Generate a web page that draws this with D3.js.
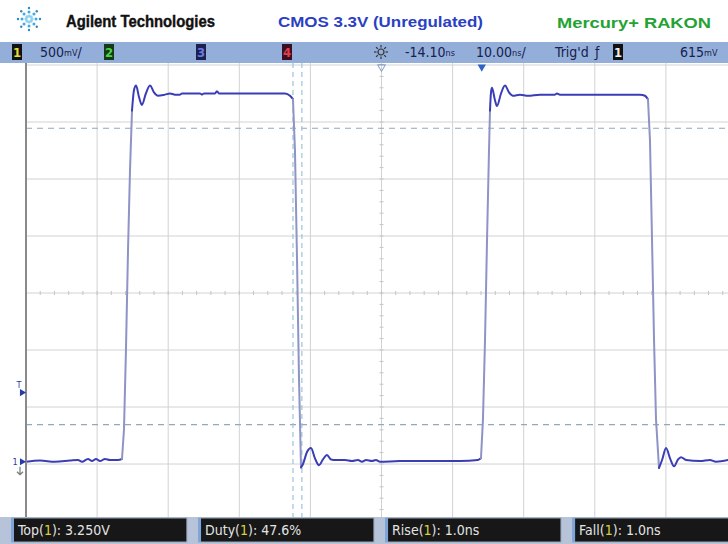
<!DOCTYPE html>
<html>
<head>
<meta charset="utf-8">
<script src="https://cdnjs.cloudflare.com/ajax/libs/d3/7.8.5/d3.min.js"></script>
<style>
  body { margin: 0; background: #fff; }
  svg { display: block; }
  .cond { font-family: "DejaVu Sans Condensed", "DejaVu Sans", sans-serif; }
  .head { font-family: "Liberation Sans", Arial, sans-serif; font-weight: bold; }
</style>
</head>
<body>
<svg id="chart" width="728" height="544"></svg>
<script>
// captured trace, channel 1 (time in ns relative to trigger, volts)
var timeNs = [-64.10, -62.13, -60.02, -57.91, -56.79, -56.22, -55.38, -54.82, -54.25, -53.69,
  -52.99, -52.29, -51.16, -50.60, -50.32, -50.04, -49.75, -49.47, -49.19, -48.91,
  -48.62, -48.21, -47.80, -47.24, -46.66, -46.10, -45.54, -44.55, -43.85, -43.14,
  -42.44, -42.16, -39.63, -39.35, -39.07, -37.52, -37.24, -36.96, -32.60, -27.67,
  -26.97, -26.55, -26.27, -25.98, -25.70, -25.42, -25.14, -24.58, -24.02, -23.46,
  -22.89, -22.33, -21.77, -21.20, -20.50, -19.23, -18.25, -17.41, -16.84, -16.28,
  -15.44, -14.88, -14.31, -11.50, -7.28, -3.06, -0.53, -0.11, 0.17, 0.46,
  0.74, 1.02, 1.16, 1.30, 1.44, 1.86, 2.14, 2.71, 3.27, 3.83,
  4.39, 5.38, 6.50, 8.19, 10.30, 10.58, 11.00, 16.63, 22.26, 22.96,
  23.38, 23.66, 23.95, 24.23, 24.51, 24.93, 25.36, 25.92, 26.48, 27.05,
  27.61, 28.02, 28.73, 30.70, 32.10, 32.95, 34.64];
var volts = [0.00, 0.01, 0.00, 0.01, 0.015, 0.00, 0.024, 0.006, 0.024, 0.006,
  0.024, 0.015, 0.015, 0.024, 0.28, 0.98, 1.86, 2.56, 3.08, 3.26,
  3.30, 3.20, 3.13, 3.23, 3.30, 3.24, 3.21, 3.22, 3.23, 3.22,
  3.22, 3.23, 3.23, 3.22, 3.23, 3.23, 3.25, 3.23, 3.23, 3.23,
  3.21, 3.18, 2.73, 1.77, 0.72, -0.05, -0.02, 0.085, 0.12, 0.03,
  -0.03, 0.02, 0.06, 0.02, 0.015, 0.015, 0.006, 0.015, 0.00, 0.015,
  0.006, 0.015, 0.00, 0.006, 0.006, 0.006, 0.015, 0.03, 0.37, 1.07,
  1.94, 2.73, 3.08, 3.24, 3.28, 3.17, 3.12, 3.23, 3.30, 3.24,
  3.21, 3.22, 3.21, 3.22, 3.22, 3.23, 3.22, 3.22, 3.22, 3.21,
  3.18, 2.82, 1.94, 1.07, 0.37, -0.055, 0.015, 0.12, 0.03, -0.04,
  0.02, 0.04, 0.015, 0.006, 0.015, 0.00, 0.015];

// scope settings
var voltsPerDiv = 0.5, nsPerDiv = 10, delayNs = -14.10, centerVolts = 1.48;
var trigLevel = 0.615;
var cursorLevels = [2.925, 0.325];
var cursorTimes = [-26.55, -25.30];

// measurements
var measNames = ["Top", "Duty", "Rise", "Fall"];
var measValues = ["3.250V", "47.6%", "1.0ns", "1.0ns"];

var svg = d3.select("#chart");

var x = d3.scaleLinear()
    .domain([delayNs - 5 * nsPerDiv, delayNs + 5 * nsPerDiv])
    .range([26, 737]);
var y = d3.scaleLinear()
    .domain([centerVolts - 4 * voltsPerDiv, centerVolts + 4 * voltsPerDiv])
    .range([521, 65]);

// ---- header
var logo = svg.append("g").attr("transform", "translate(29,19)");
[[3, 1.6, "#8fd3f0"], [7, 1.5, "#45a9dc"], [11, 1.2, "#2f86c4"]].forEach(function (r) {
    d3.range(8).forEach(function (k) {
        var a = k * Math.PI / 4;
        logo.append("circle")
            .attr("cx", r[0] * Math.cos(a))
            .attr("cy", r[0] * Math.sin(a))
            .attr("r", r[1])
            .attr("fill", r[2]);
    });
});

svg.append("text").attr("class", "head")
    .attr("x", 66).attr("y", 27)
    .attr("font-size", 16).attr("fill", "#111")
    .attr("stroke", "#111").attr("stroke-width", 0.4)
    .attr("textLength", 149).attr("lengthAdjust", "spacingAndGlyphs")
    .text("Agilent Technologies");
svg.append("text").attr("class", "head")
    .attr("x", 278).attr("y", 27)
    .attr("font-size", 14).attr("fill", "#2b3fc4")
    .attr("textLength", 205).attr("lengthAdjust", "spacingAndGlyphs")
    .text("CMOS 3.3V (Unregulated)");
svg.append("text").attr("class", "head")
    .attr("x", 557).attr("y", 28)
    .attr("font-size", 14).attr("fill", "#24a234")
    .attr("textLength", 154).attr("lengthAdjust", "spacingAndGlyphs")
    .text("Mercury+  RAKON");

// ---- status bar
svg.append("rect")
    .attr("x", 0).attr("y", 42).attr("width", 728).attr("height", 21)
    .attr("fill", "#93aed8");

function chanBox(xp, label, bg, fg) {
    svg.append("rect").attr("x", xp).attr("y", 44).attr("width", 10).attr("height", 16)
        .attr("fill", bg);
    svg.append("text").attr("class", "cond")
        .attr("x", xp + 5).attr("y", 57).attr("text-anchor", "middle")
        .attr("font-size", 13).attr("font-weight", "bold").attr("fill", fg)
        .text(label);
}
chanBox(12, "1", "#111", "#e6dc3a");
chanBox(104, "2", "#163a16", "#4cd24c");
chanBox(196, "3", "#1c2050", "#6e78e0");
chanBox(282, "4", "#3a1020", "#e23c50");
chanBox(613, "1", "#111", "#f0f0f0");

function statusText(xp, main, unit, tail) {
    var t = svg.append("text").attr("class", "cond")
        .attr("x", xp).attr("y", 57)
        .attr("font-size", 14).attr("fill", "#17214f");
    t.append("tspan").text(main);
    if (unit) t.append("tspan").attr("font-size", 9).attr("dy", -1).text(unit);
    if (tail) t.append("tspan").attr("dy", 1).text(tail);
}
statusText(40, "500", "mV", "/");
statusText(405, "-14.10", "ns");
statusText(476, "10.00", "ns", "/");
statusText(555, "Trig'd");
statusText(595, "\u0192");
statusText(680, "615", "mV");

// sun icon
var sun = svg.append("g").attr("transform", "translate(381,52)");
sun.append("circle").attr("r", 3).attr("fill", "none").attr("stroke", "#333").attr("stroke-width", 1.2);
d3.range(8).forEach(function (k) {
    var a = k * Math.PI / 4;
    sun.append("line")
        .attr("x1", 4.5 * Math.cos(a)).attr("y1", 4.5 * Math.sin(a))
        .attr("x2", 7 * Math.cos(a)).attr("y2", 7 * Math.sin(a))
        .attr("stroke", "#333").attr("stroke-width", 1.2);
});

// ---- graticule
var plot = svg.append("g");
plot.append("clipPath").attr("id", "clip")
    .append("rect").attr("x", 26).attr("y", 63).attr("width", 702).attr("height", 454);

var grid = plot.append("g").attr("clip-path", "url(#clip)");
var vLines = d3.range(11).map(function (i) { return x.domain()[0] + i * nsPerDiv; });
var hLines = d3.range(9).map(function (i) { return y.domain()[0] + i * voltsPerDiv; });

grid.selectAll(".vgrid").data(vLines).enter().append("line")
    .attr("class", "vgrid")
    .attr("x1", d => x(d)).attr("x2", d => x(d))
    .attr("y1", 63).attr("y2", 521)
    .attr("stroke", "#d2d2d2").attr("stroke-width", 1);
grid.selectAll(".hgrid").data(hLines).enter().append("line")
    .attr("class", "hgrid")
    .attr("x1", 26).attr("x2", 737)
    .attr("y1", d => y(d)).attr("y2", d => y(d))
    .attr("stroke", "#d2d2d2").attr("stroke-width", 1);

// minor ticks on the centre axes
var xMinor = d3.range(51).map(function (i) { return x.domain()[0] + i * nsPerDiv / 5; });
var yMinor = d3.range(41).map(function (i) { return y.domain()[0] + i * voltsPerDiv / 5; });
grid.selectAll(".xminor").data(xMinor).enter().append("line")
    .attr("x1", d => x(d)).attr("x2", d => x(d))
    .attr("y1", y(centerVolts) - 2).attr("y2", y(centerVolts) + 2)
    .attr("stroke", "#c4c4c4");
grid.selectAll(".yminor").data(yMinor).enter().append("line")
    .attr("x1", x(delayNs) - 2).attr("x2", x(delayNs) + 2)
    .attr("y1", d => y(d)).attr("y2", d => y(d))
    .attr("stroke", "#c4c4c4");

// left border
svg.append("line")
    .attr("x1", 26).attr("x2", 26).attr("y1", 63).attr("y2", 517)
    .attr("stroke", "#8a8a8a").attr("stroke-width", 2);

// cursors
grid.selectAll(".hcur").data(cursorLevels).enter().append("line")
    .attr("x1", 26).attr("x2", 737)
    .attr("y1", d => y(d)).attr("y2", d => y(d))
    .attr("stroke", "#8fa9bd").attr("stroke-width", 1.2)
    .attr("stroke-dasharray", "6,5");
grid.selectAll(".vcur").data(cursorTimes).enter().append("line")
    .attr("x1", d => x(d)).attr("x2", d => x(d))
    .attr("y1", 63).attr("y2", 521)
    .attr("stroke", "#9cc6d6").attr("stroke-width", 1.2)
    .attr("stroke-dasharray", "5,4");

// ---- trace: split into runs, flat runs smoothed in blue, steep edges straight and dimmer
var pts = timeNs.map(function (t, i) { return [x(t), y(volts[i])]; });
function isSteep(a, b) {
    var dx = Math.abs(b[0] - a[0]), dy = Math.abs(b[1] - a[1]);
    return dy > 25 && dy > 4 * dx;
}
var runs = [];
d3.pairs(pts).forEach(function (p) {
    var s = isSteep(p[0], p[1]);
    var last = runs[runs.length - 1];
    if (last && last.steep === s) last.pts.push(p[1]);
    else runs.push({ steep: s, pts: [p[0], p[1]] });
});
var smooth = d3.line().curve(d3.curveMonotoneX);
var straight = d3.line();
grid.selectAll(".run").data(runs).enter().append("path")
    .attr("d", d => d.steep ? straight(d.pts) : smooth(d.pts))
    .attr("fill", "none")
    .attr("stroke", d => d.steep ? "#8f93c6" : "#3a3db6")
    .attr("stroke-width", 2)
    .attr("stroke-linejoin", "round")
    .attr("stroke-linecap", "round");

// ---- markers
// trigger level
svg.append("text").attr("class", "cond")
    .attr("x", 19).attr("y", y(trigLevel) - 4).attr("text-anchor", "middle")
    .attr("font-size", 9).attr("fill", "#2a3aa8").text("T");
svg.append("path")
    .attr("d", d3.symbol(d3.symbolTriangle, 22)())
    .attr("transform", "translate(22," + (y(trigLevel) + 1) + ") rotate(90)")
    .attr("fill", "#2a3aa8");
// ground marker for channel 1
svg.append("text").attr("class", "cond")
    .attr("x", 15).attr("y", y(0) + 3).attr("text-anchor", "middle")
    .attr("font-size", 9).attr("fill", "#2a3aa8").text("1");
svg.append("path")
    .attr("d", d3.symbol(d3.symbolTriangle, 22)())
    .attr("transform", "translate(22," + y(0) + ") rotate(90)")
    .attr("fill", "#2a3aa8");
svg.append("path")
    .attr("d", "M20," + (y(0) + 5) + "V" + (y(0) + 13) + "M17," + (y(0) + 10) + "L20," + (y(0) + 13) + "L23," + (y(0) + 10))
    .attr("stroke", "#777").attr("fill", "none").attr("stroke-width", 1.2);
// delay reference and trigger position
svg.append("path")
    .attr("d", d3.symbol(d3.symbolTriangle, 26)())
    .attr("transform", "translate(" + x(delayNs) + ",67) rotate(180)")
    .attr("fill", "none").attr("stroke", "#7d9ac0").attr("stroke-width", 1);
svg.append("path")
    .attr("d", d3.symbol(d3.symbolTriangle, 30)())
    .attr("transform", "translate(" + x(0) + ",67) rotate(180)")
    .attr("fill", "#2f63c8");

// ---- measurement bar
svg.append("rect")
    .attr("x", 0).attr("y", 517).attr("width", 728).attr("height", 27)
    .attr("fill", "#b6c3d8");
var band = d3.scaleBand().domain(measNames).range([12, 748]).paddingInner(0.065);
var box = svg.selectAll(".meas").data(measNames).enter().append("g")
    .attr("transform", d => "translate(" + band(d) + ",518)");
box.append("rect")
    .attr("width", band.bandwidth()).attr("height", 24)
    .attr("fill", "#171717").attr("stroke", "#9aa6b8").attr("stroke-width", 1);
box.append("rect")
    .attr("x", -1).attr("width", 3).attr("height", 24).attr("fill", "#7fa4d8");
var mt = box.append("text").attr("class", "cond")
    .attr("x", 6).attr("y", 17).attr("font-size", 14).attr("fill", "#e4e4e4");
mt.append("tspan").text(d => d + "(");
mt.append("tspan").attr("fill", "#d6d23a").text("1");
mt.append("tspan").text((d, i) => "): " + measValues[i]);
</script>
</body>
</html>
